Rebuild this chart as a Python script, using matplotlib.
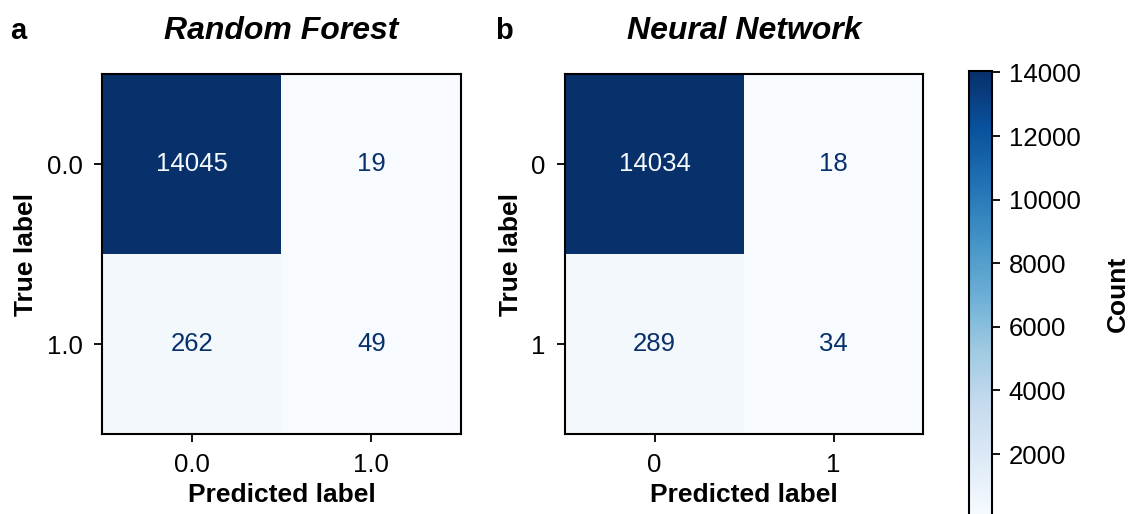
import numpy as np
import matplotlib
matplotlib.use("Agg")
import matplotlib.pyplot as plt

plt.rcParams['font.family'] = ['Liberation Sans', 'DejaVu Sans']

rf_matrix = [[14045, 19], [262, 49]]
nn_matrix = [[14034, 18], [289, 34]]
rf_labels = ["0.0", "1.0"]
nn_labels = ["0", "1"]
titles = ["Random Forest", "Neural Network"]
panel_letters = ["a", "b"]
cbar_ticks = [2000, 4000, 6000, 8000, 10000, 12000, 14000]

W, H = 1132, 514
fig = plt.figure(figsize=(W / 100, H / 100), dpi=100)

def fx(px):
    return px / W

def fy(py):
    return 1 - py / H

ax_boxes = [(102, 74, 461, 434), (565, 74, 923, 434)]
cmap = plt.get_cmap("Blues")
tick_fs = 18.5
label_fs = 19

images = []
for i, (mat, labs, title, letter) in enumerate(zip([rf_matrix, nn_matrix], [rf_labels, nn_labels], titles, panel_letters)):
    x0, y0, x1, y1 = ax_boxes[i]
    ax = fig.add_axes([fx(x0), fy(y1), fx(x1 - x0), (y1 - y0) / H])
    m = np.array(mat)
    im = ax.imshow(m, cmap=cmap, vmin=m.min(), vmax=m.max(), aspect="auto", interpolation="nearest")
    images.append(im)
    thresh = (m.max() + m.min()) / 2
    for r in range(2):
        for c in range(2):
            col = cmap(0.0) if m[r, c] > thresh else cmap(1.0)
            ax.text(c, r, str(m[r, c]), ha="center", va="center", color=col, fontsize=tick_fs)
    ax.set_xticks(range(2))
    ax.set_yticks(range(2))
    ax.set_xticklabels(labs, fontsize=tick_fs)
    ax.set_yticklabels(labs, fontsize=tick_fs)
    ax.tick_params(length=6, width=1.3, pad=8)
    for s in ax.spines.values():
        s.set_linewidth(1.5)
    ax.set_xlabel("Predicted label", fontsize=label_fs, fontweight="bold", labelpad=4)
    ax.set_ylabel("True label", fontsize=label_fs, fontweight="bold", labelpad=6)
    ax.set_title(title, fontsize=23, fontweight="bold", style="italic", pad=25)
    lx = 10 if i == 0 else 495
    fig.text(fx(lx), fy(31), letter, fontsize=21, fontweight="bold", va="center", ha="left")

cax = fig.add_axes([fx(969), fy(517), fx(992 - 969), (517 - 71) / H])
cb = fig.colorbar(images[0], cax=cax)
cb.set_ticks(cbar_ticks)
cb.ax.tick_params(labelsize=tick_fs, length=6, width=1.3, pad=6)
cb.outline.set_linewidth(1.5)
cb.set_label("Count", fontsize=label_fs, fontweight="bold", labelpad=18)

fig.savefig("out.png", dpi=100)
